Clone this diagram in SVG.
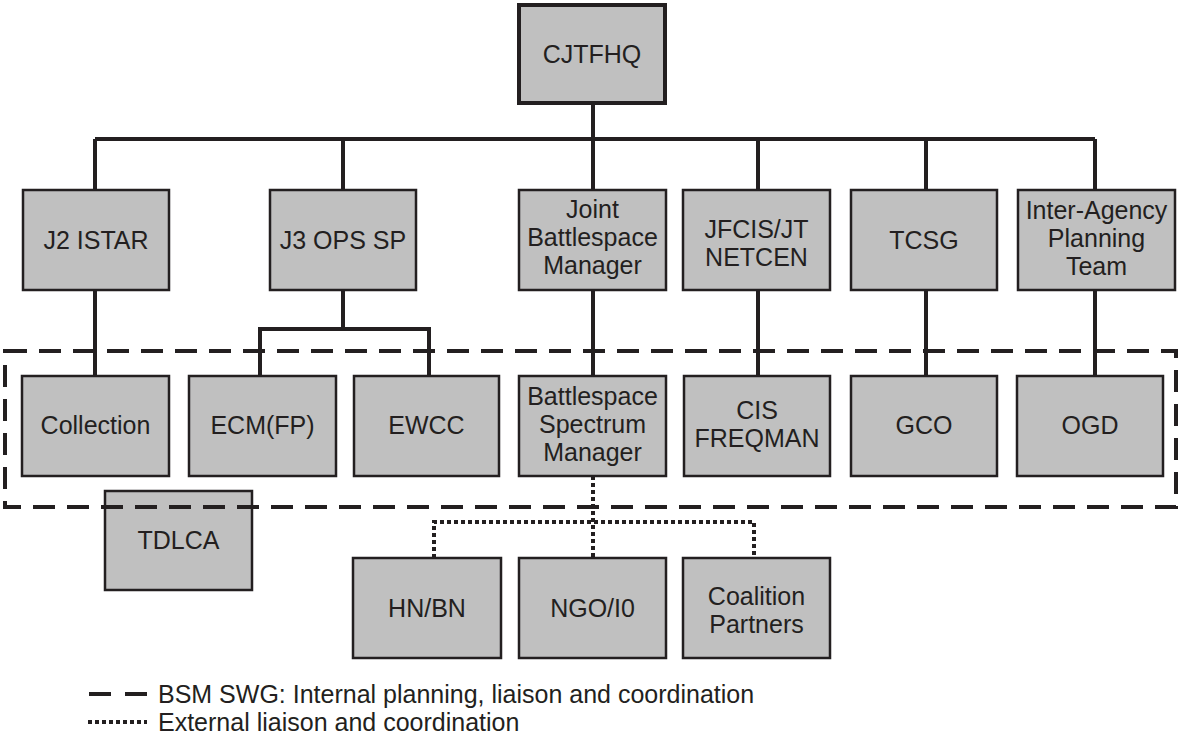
<svg xmlns="http://www.w3.org/2000/svg" width="1179" height="738" viewBox="0 0 1179 738">
<style>
.box{fill:#c0c0c0;stroke:#231f20;stroke-width:2.5}
.t{font-family:"Liberation Sans",Arial,sans-serif;font-size:25px;fill:#231f20;text-anchor:middle}
.lg{font-family:"Liberation Sans",Arial,sans-serif;font-size:25px;fill:#231f20}
.ln{fill:none;stroke:#231f20;stroke-width:4}
.dash{fill:none;stroke:#231f20;stroke-width:4;stroke-dasharray:22 12}
.dot{fill:none;stroke:#231f20;stroke-width:4;stroke-dasharray:4 3}
</style>
<rect width="1179" height="738" fill="#fff"/>

<g id="TDLCA"><rect class="box" x="105" y="491" width="147" height="99"/><text class="t" x="178.5" y="549">TDLCA</text></g>

<path class="dash" d="M5 351 H1176 V507 H5 Z"/>

<g id="connectors">
<path class="ln" d="M593 103 V139 M95 139 H1095 M95 139 V190 M343 139 V190 M593 139 V190 M758 139 V190 M926 139 V190 M1095 139 V190"/>
<path class="ln" d="M95 290 V376 M593 290 V376 M758 290 V376 M926 290 V376 M1095 290 V376"/>
<path class="ln" d="M343 290 V329 M260 376 V329 H429 V376"/>
<path class="dot" d="M593 476 V558 M434 558 V522 H754 V558"/>
</g>

<g id="CJTFHQ"><rect class="box" x="519" y="5" width="146" height="98" style="stroke-width:4"/><text class="t" x="592" y="63">CJTFHQ</text></g>

<g id="J2ISTAR"><rect class="box" x="23" y="190" width="146" height="100"/><text class="t" x="96" y="249">J2 ISTAR</text></g>
<g id="J3OPSSP"><rect class="box" x="270" y="190" width="146" height="100"/><text class="t" x="343" y="249">J3 OPS SP</text></g>
<g id="JBM"><rect class="box" x="519" y="190" width="147" height="100"/><text class="t" x="592.5" y="218">Joint</text><text class="t" x="592.5" y="246">Battlespace</text><text class="t" x="592.5" y="274">Manager</text></g>
<g id="JFCIS"><rect class="box" x="683" y="190" width="147" height="100"/><text class="t" x="756.5" y="238">JFCIS/JT</text><text class="t" x="756.5" y="266">NETCEN</text></g>
<g id="TCSG"><rect class="box" x="851" y="190" width="146" height="100"/><text class="t" x="924" y="249">TCSG</text></g>
<g id="IAPT"><rect class="box" x="1018" y="190" width="157" height="100"/><text class="t" x="1096.5" y="219">Inter-Agency</text><text class="t" x="1096.5" y="247">Planning</text><text class="t" x="1096.5" y="275">Team</text></g>

<g id="Collection"><rect class="box" x="22" y="376" width="147" height="100"/><text class="t" x="95.5" y="434">Collection</text></g>
<g id="ECMFP"><rect class="box" x="189" y="376" width="147" height="100"/><text class="t" x="262.5" y="434">ECM(FP)</text></g>
<g id="EWCC"><rect class="box" x="354" y="376" width="145" height="100"/><text class="t" x="426.5" y="434">EWCC</text></g>
<g id="BSM"><rect class="box" x="519" y="376" width="147" height="100"/><text class="t" x="592.5" y="405">Battlespace</text><text class="t" x="592.5" y="433">Spectrum</text><text class="t" x="592.5" y="461">Manager</text></g>
<g id="CISFREQMAN"><rect class="box" x="684" y="376" width="146" height="100"/><text class="t" x="757" y="419">CIS</text><text class="t" x="757" y="447">FREQMAN</text></g>
<g id="GCO"><rect class="box" x="851" y="376" width="146" height="100"/><text class="t" x="924" y="434">GCO</text></g>
<g id="OGD"><rect class="box" x="1017" y="376" width="146" height="100"/><text class="t" x="1090" y="434">OGD</text></g>

<g id="HNBN"><rect class="box" x="353" y="558" width="148" height="100"/><text class="t" x="427" y="617">HN/BN</text></g>
<g id="NGOIO"><rect class="box" x="519" y="558" width="147" height="100"/><text class="t" x="592.5" y="617">NGO/I0</text></g>
<g id="Coalition"><rect class="box" x="683" y="558" width="147" height="100"/><text class="t" x="756.5" y="605">Coalition</text><text class="t" x="756.5" y="633">Partners</text></g>

<g id="legend">
<path class="ln" d="M89 694 H111 M125 694 H147"/>
<path class="dot" d="M88 722 H147"/>
<text class="lg" x="158" y="703">BSM SWG: Internal planning, liaison and coordination</text>
<text class="lg" x="158" y="731">External liaison and coordination</text>
</g>
</svg>
